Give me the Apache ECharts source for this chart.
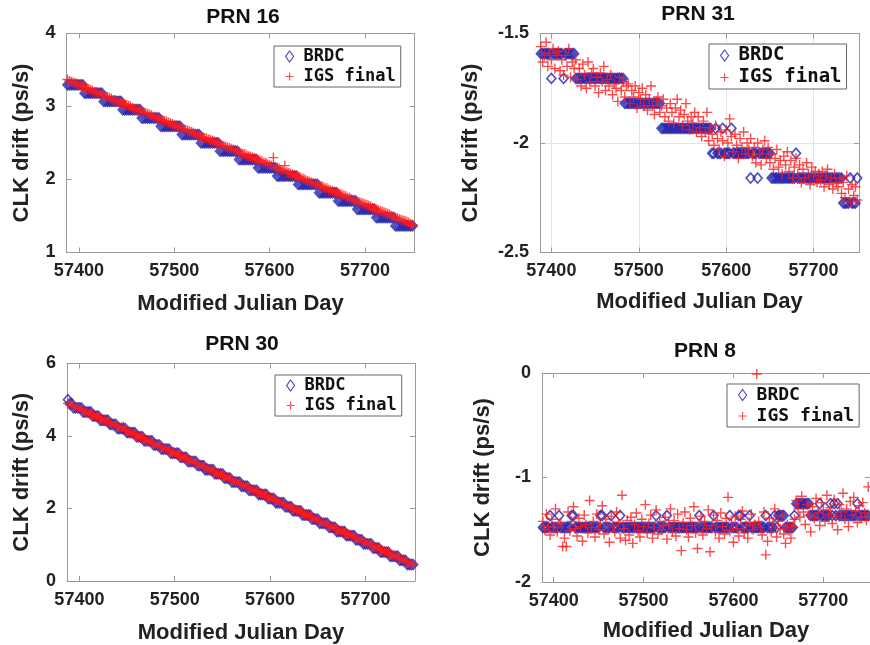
<!DOCTYPE html>
<html><head><meta charset="utf-8">
<script src="https://cdn.jsdelivr.net/npm/echarts@6/dist/echarts.min.js"></script>
<style>html,body{margin:0;padding:0;background:#fff}#c{width:870px;height:645px}</style>
</head><body><div id="c"></div>
<script>
// ---------- DATA ----------
const days = [
57388,57390,57392,57394,57396,57398,57400,57402,57404,57406,
57408,57410,57412,57414,57416,57418,57420,57422,57424,57426,
57428,57430,57432,57434,57436,57438,57440,57442,57444,57446,
57448,57450,57452,57454,57456,57458,57460,57462,57464,57466,
57468,57470,57472,57474,57476,57478,57480,57482,57484,57486,
57488,57490,57492,57494,57496,57498,57500,57502,57504,57506,
57508,57510,57512,57514,57516,57518,57520,57522,57524,57526,
57528,57530,57532,57534,57536,57538,57540,57542,57544,57546,
57548,57550,57552,57554,57556,57558,57560,57562,57564,57566,
57568,57570,57572,57574,57576,57578,57580,57582,57584,57586,
57588,57590,57592,57594,57596,57598,57600,57602,57604,57606,
57608,57610,57612,57614,57616,57618,57620,57622,57624,57626,
57628,57630,57632,57634,57636,57638,57640,57642,57644,57646,
57648,57650,57652,57654,57656,57658,57660,57662,57664,57666,
57668,57670,57672,57674,57676,57678,57680,57682,57684,57686,
57688,57690,57692,57694,57696,57698,57700,57702,57704,57706,
57708,57710,57712,57714,57716,57718,57720,57722,57724,57726,
57728,57730,57732,57734,57736,57738,57740,57742,57744,57746,
57748,57750];

const xTickLabels = [57400, 57500, 57600, 57700];

// PRN 16
const brdc16 = [
3.297,3.297,3.297,3.297,3.297,3.297,3.297,3.297,3.297,3.183,
3.183,3.183,3.183,3.183,3.183,3.183,3.183,3.183,3.183,3.070,
3.070,3.070,3.070,3.070,3.070,3.070,3.070,3.070,3.070,2.956,
2.956,2.956,2.956,2.956,2.956,2.956,2.956,2.956,2.956,2.842,
2.842,2.842,2.842,2.842,2.842,2.842,2.842,2.842,2.842,2.729,
2.729,2.729,2.729,2.729,2.729,2.729,2.729,2.729,2.729,2.729,
2.615,2.615,2.615,2.615,2.615,2.615,2.615,2.615,2.615,2.615,
2.501,2.501,2.501,2.501,2.501,2.501,2.501,2.501,2.501,2.501,
2.388,2.388,2.388,2.388,2.388,2.388,2.388,2.388,2.388,2.388,
2.274,2.274,2.274,2.274,2.274,2.274,2.274,2.274,2.274,2.274,
2.160,2.160,2.160,2.160,2.160,2.160,2.160,2.160,2.160,2.160,
2.047,2.047,2.047,2.047,2.047,2.047,2.047,2.047,2.047,2.047,
2.047,1.933,1.933,1.933,1.933,1.933,1.933,1.933,1.933,1.933,
1.933,1.933,1.819,1.819,1.819,1.819,1.819,1.819,1.819,1.819,
1.819,1.819,1.706,1.706,1.706,1.706,1.706,1.706,1.706,1.706,
1.706,1.706,1.592,1.592,1.592,1.592,1.592,1.592,1.592,1.592,
1.592,1.592,1.478,1.478,1.478,1.478,1.478,1.478,1.478,1.478,
1.478,1.478,1.364,1.364,1.364,1.364,1.364,1.364,1.364,1.364,
1.364,1.364];
const igs16 = [
3.37,3.35,3.34,3.33,3.32,3.31,3.29,3.29,3.27,3.26,
3.25,3.24,3.23,3.22,3.20,3.20,3.18,3.17,3.16,3.15,
3.14,3.13,3.12,3.11,3.09,3.09,3.07,3.06,3.05,3.04,
3.03,3.02,3.01,3.00,2.98,2.97,2.97,2.95,2.94,2.93,
2.92,2.91,2.90,2.89,2.88,2.86,2.86,2.84,2.83,2.82,
2.81,2.80,2.79,2.78,2.77,2.76,2.74,2.74,2.72,2.71,
2.70,2.69,2.68,2.67,2.66,2.65,2.64,2.62,2.62,2.60,
2.59,2.58,2.57,2.56,2.55,2.54,2.53,2.52,2.51,2.49,
2.49,2.47,2.46,2.45,2.44,2.43,2.42,2.41,2.40,2.39,
2.38,2.36,2.35,2.35,2.33,2.32,2.31,2.30,2.29,2.28,
2.27,2.26,2.25,2.23,2.23,2.21,2.20,2.19,2.30,2.17,
2.16,2.15,2.13,2.13,2.19,2.10,2.09,2.08,2.07,2.06,
2.05,2.04,2.03,2.01,2.01,1.99,1.98,1.97,1.96,1.95,
1.94,1.93,1.92,1.91,1.90,1.88,1.88,1.86,1.85,1.84,
1.83,1.82,1.81,1.80,1.79,1.78,1.77,1.75,1.75,1.73,
1.72,1.71,1.70,1.69,1.68,1.67,1.66,1.65,1.64,1.63,
1.61,1.60,1.59,1.58,1.57,1.56,1.55,1.54,1.53,1.52,
1.50,1.49,1.48,1.47,1.46,1.45,1.44,1.43,1.42,1.41,
1.39,1.38];

// PRN 31
const brdc31 = [
-1.592,-1.592,-1.592,-1.592,-1.592,-1.592,-1.705,-1.592,-1.592,-1.592,
-1.592,-1.592,-1.592,-1.705,-1.592,-1.592,-1.592,-1.592,-1.592,-1.592,
-1.705,-1.705,-1.705,-1.705,-1.705,-1.705,-1.705,-1.705,-1.705,-1.705,
-1.705,-1.705,-1.705,-1.705,-1.705,-1.705,-1.705,-1.705,-1.705,-1.705,
-1.705,-1.705,-1.705,-1.705,-1.705,-1.705,-1.705,-1.705,-1.819,-1.819,
-1.819,-1.819,-1.819,-1.819,-1.819,-1.819,-1.819,-1.819,-1.819,-1.819,
-1.819,-1.819,-1.819,-1.819,-1.819,-1.819,-1.819,-1.819,-1.819,-1.933,
-1.933,-1.933,-1.933,-1.933,-1.933,-1.933,-1.933,-1.933,-1.933,-1.933,
-1.933,-1.933,-1.933,-1.933,-1.933,-1.933,-1.933,-1.933,-1.933,-1.933,
-1.933,-1.933,-1.933,-1.933,-1.933,-1.933,-1.933,-1.933,-2.047,-2.047,
-1.933,-2.047,-2.047,-2.047,-1.933,-2.047,-2.047,-2.047,-2.047,-1.933,
-2.047,-2.047,-2.047,-2.047,-2.047,-2.047,-2.047,-2.047,-2.047,-2.047,
-2.160,-2.047,-2.047,-2.047,-2.160,-2.047,-2.047,-2.047,-2.047,-2.047,
-2.047,-2.047,-2.160,-2.160,-2.160,-2.160,-2.160,-2.160,-2.160,-2.160,
-2.160,-2.160,-2.160,-2.160,-2.160,-2.160,-2.047,-2.160,-2.160,-2.160,
-2.160,-2.160,-2.160,-2.160,-2.160,-2.160,-2.160,-2.160,-2.160,-2.160,
-2.160,-2.160,-2.160,-2.160,-2.160,-2.160,-2.160,-2.160,-2.160,-2.160,
-2.160,-2.160,-2.160,-2.274,-2.274,-2.274,-2.274,-2.160,-2.274,-2.274,
-2.274,-2.160];
const igs31 = [
-1.56,-1.63,-1.60,-1.54,-1.65,-1.59,-1.62,-1.57,-1.66,-1.60,
-1.58,-1.67,-1.62,-1.69,-1.60,-1.65,-1.57,-1.70,-1.63,-1.66,
-1.62,-1.71,-1.66,-1.74,-1.64,-1.69,-1.75,-1.63,-1.72,-1.68,
-1.66,-1.74,-1.70,-1.77,-1.68,-1.72,-1.65,-1.76,-1.71,-1.74,
-1.69,-1.78,-1.73,-1.75,-1.81,-1.70,-1.76,-1.72,-1.79,-1.74,
-1.73,-1.82,-1.76,-1.79,-1.74,-1.84,-1.77,-1.80,-1.75,-1.83,
-1.78,-1.85,-1.80,-1.74,-1.83,-1.87,-1.81,-1.79,-1.86,-1.83,
-1.80,-1.88,-1.84,-1.90,-1.82,-1.86,-1.91,-1.84,-1.80,-1.88,
-1.85,-1.92,-1.87,-1.82,-1.90,-1.94,-1.88,-1.91,-1.86,-1.95,
-1.88,-1.93,-1.97,-1.90,-1.95,-1.86,-1.99,-1.93,-1.96,-2.01,
-1.92,-1.98,-2.03,-1.95,-1.99,-2.06,-1.94,-2.00,-1.89,-1.97,
-2.04,-1.96,-2.01,-2.07,-1.98,-2.02,-1.95,-2.05,-2.00,-2.03,
-1.98,-2.06,-2.02,-2.09,-2.00,-2.05,-2.10,-2.03,-1.99,-2.07,
-2.02,-2.09,-2.05,-2.12,-2.07,-2.03,-2.11,-2.08,-2.14,-2.06,
-2.10,-2.04,-2.13,-2.08,-2.16,-2.11,-2.07,-2.14,-2.10,-2.18,
-2.12,-2.16,-2.09,-2.14,-2.19,-2.11,-2.15,-2.13,-2.18,-2.14,
-2.17,-2.13,-2.20,-2.15,-2.12,-2.19,-2.16,-2.21,-2.14,-2.18,
-2.20,-2.16,-2.23,-2.18,-2.25,-2.15,-2.21,-2.27,-2.19,-2.24,
-2.20,-2.26];

// PRN 30
const brdc30 = [
5.002,4.889,4.889,4.775,4.775,4.775,4.775,4.775,4.661,4.661,
4.661,4.661,4.661,4.548,4.548,4.548,4.548,4.434,4.434,4.434,
4.434,4.434,4.320,4.320,4.320,4.320,4.207,4.207,4.207,4.207,
4.207,4.093,4.093,4.093,4.093,4.093,3.979,3.979,3.979,3.979,
3.866,3.866,3.866,3.866,3.866,3.752,3.752,3.752,3.752,3.638,
3.638,3.638,3.638,3.638,3.524,3.524,3.524,3.524,3.524,3.411,
3.411,3.411,3.411,3.297,3.297,3.297,3.297,3.297,3.183,3.183,
3.183,3.183,3.070,3.070,3.070,3.070,3.070,2.956,2.956,2.956,
2.956,2.956,2.842,2.842,2.842,2.842,2.729,2.729,2.729,2.729,
2.729,2.615,2.615,2.615,2.615,2.501,2.501,2.501,2.501,2.501,
2.388,2.388,2.388,2.388,2.388,2.274,2.274,2.274,2.274,2.160,
2.160,2.160,2.160,2.160,2.047,2.047,2.047,2.047,1.933,1.933,
1.933,1.933,1.933,1.819,1.819,1.819,1.819,1.819,1.706,1.706,
1.706,1.706,1.592,1.592,1.592,1.592,1.592,1.478,1.478,1.478,
1.478,1.364,1.364,1.364,1.364,1.364,1.251,1.251,1.251,1.251,
1.251,1.137,1.137,1.137,1.137,1.023,1.023,1.023,1.023,1.023,
0.910,0.910,0.910,0.910,0.796,0.796,0.796,0.796,0.796,0.682,
0.682,0.682,0.682,0.682,0.568,0.568,0.568,0.568,0.455,0.455,
0.455,0.455];
const igs30 = [
4.90,4.88,4.85,4.83,4.80,4.78,4.75,4.73,4.70,4.68,
4.65,4.63,4.60,4.58,4.56,4.53,4.51,4.48,4.46,4.43,
4.41,4.38,4.36,4.34,4.31,4.29,4.26,4.24,4.21,4.26,
4.16,4.14,4.11,4.09,4.06,4.04,4.01,3.99,3.97,3.94,
3.92,3.89,3.87,3.84,3.82,3.79,3.77,3.74,3.72,3.70,
3.67,3.65,3.62,3.60,3.57,3.55,3.52,3.50,3.47,3.45,
3.42,3.40,3.38,3.35,3.33,3.30,3.28,3.25,3.23,3.20,
3.18,3.15,3.13,3.11,3.08,3.06,3.03,3.01,2.98,2.96,
2.93,2.91,2.88,2.86,2.84,2.81,2.79,2.76,2.74,2.71,
2.69,2.66,2.64,2.61,2.59,2.57,2.54,2.52,2.49,2.47,
2.44,2.42,2.39,2.37,2.34,2.32,2.30,2.27,2.25,2.22,
2.20,2.17,2.15,2.12,2.10,2.07,2.05,2.03,2.00,1.98,
1.95,1.93,1.90,1.88,1.85,1.83,1.80,1.78,1.76,1.73,
1.70,1.68,1.65,1.63,1.61,1.58,1.56,1.53,1.51,1.48,
1.46,1.43,1.41,1.38,1.36,1.33,1.31,1.29,1.26,1.24,
1.21,1.19,1.16,1.14,1.11,1.09,1.06,1.04,1.02,0.99,
0.97,0.94,0.92,0.89,0.87,0.84,0.82,0.79,0.77,0.75,
0.72,0.70,0.67,0.65,0.62,0.60,0.57,0.55,0.52,0.50,
0.47,0.45];

// PRN 8
const brdc8 = [
-1.478,-1.478,-1.478,-1.478,-1.364,-1.478,-1.478,-1.478,-1.478,-1.364,
-1.478,-1.478,-1.478,-1.478,-1.478,-1.478,-1.364,-1.364,-1.478,-1.478,
-1.478,-1.478,-1.478,-1.478,-1.478,-1.478,-1.478,-1.478,-1.478,-1.478,
-1.478,-1.478,-1.364,-1.364,-1.478,-1.478,-1.478,-1.478,-1.364,-1.478,
-1.478,-1.478,-1.478,-1.364,-1.478,-1.478,-1.478,-1.478,-1.478,-1.478,
-1.478,-1.478,-1.478,-1.478,-1.478,-1.478,-1.478,-1.478,-1.478,-1.478,
-1.478,-1.478,-1.478,-1.364,-1.478,-1.478,-1.478,-1.478,-1.478,-1.364,
-1.478,-1.478,-1.478,-1.478,-1.478,-1.478,-1.478,-1.478,-1.478,-1.478,
-1.478,-1.478,-1.478,-1.478,-1.478,-1.478,-1.478,-1.364,-1.478,-1.478,
-1.478,-1.478,-1.478,-1.478,-1.478,-1.364,-1.478,-1.478,-1.478,-1.478,
-1.478,-1.478,-1.478,-1.478,-1.364,-1.478,-1.478,-1.478,-1.478,-1.364,
-1.364,-1.478,-1.478,-1.478,-1.478,-1.364,-1.478,-1.478,-1.478,-1.478,
-1.478,-1.478,-1.478,-1.478,-1.364,-1.478,-1.478,-1.478,-1.478,-1.364,
-1.478,-1.364,-1.364,-1.364,-1.364,-1.478,-1.478,-1.478,-1.478,-1.478,
-1.364,-1.250,-1.250,-1.250,-1.250,-1.250,-1.250,-1.250,-1.250,-1.364,
-1.364,-1.364,-1.364,-1.364,-1.250,-1.364,-1.364,-1.364,-1.364,-1.364,
-1.250,-1.364,-1.250,-1.364,-1.250,-1.364,-1.364,-1.364,-1.364,-1.364,
-1.364,-1.364,-1.364,-1.364,-1.364,-1.250,-1.364,-1.364,-1.364,-1.364,
-1.364,-1.364];
const igs8 = [
-1.42,-1.50,-1.35,-1.47,-1.55,-1.40,-1.48,-1.30,-1.52,-1.44,
-1.44,-1.66,-1.58,-1.66,-1.33,-1.51,-1.42,-1.28,-1.49,-1.56,
-1.39,-1.47,-1.61,-1.36,-1.45,-1.53,-1.22,-1.48,-1.42,-1.57,
-1.35,-1.50,-1.44,-1.27,-1.54,-1.40,-1.48,-1.62,-1.37,-1.46,
-1.52,-1.33,-1.43,-1.58,-1.17,-1.49,-1.60,-1.41,-1.55,-1.38,
-1.63,-1.45,-1.34,-1.51,-1.57,-1.40,-1.47,-1.26,-1.53,-1.44,
-1.36,-1.58,-1.48,-1.31,-1.54,-1.42,-1.50,-1.46,-1.38,-1.59,
-1.45,-1.30,-1.52,-1.41,-1.56,-1.35,-1.49,-1.70,-1.43,-1.33,
-1.50,-1.57,-1.39,-1.46,-1.28,-1.53,-1.68,-1.44,-1.37,-1.55,
-1.42,-1.49,-1.31,-1.71,-1.46,-1.36,-1.52,-1.41,-1.58,-1.34,
-1.47,-1.54,-1.39,-1.19,-1.51,-1.44,-1.62,-1.37,-1.49,-1.56,
-1.40,-1.32,-1.53,-1.46,-1.58,-1.43,-1.35,-1.50,-1.45,-0.01,
-1.42,-1.48,-1.55,-1.33,-1.74,-1.61,-1.39,-1.52,-1.44,-1.30,
-1.57,-1.42,-1.49,-1.36,-1.54,-1.63,-1.45,-1.51,-1.58,-1.47,
-1.40,-1.22,-1.30,-1.38,-1.18,-1.33,-1.45,-1.26,-1.36,-1.52,
-1.28,-1.39,-1.20,-1.34,-1.46,-1.24,-1.31,-1.42,-1.17,-1.35,
-1.29,-1.44,-1.21,-1.37,-1.50,-1.26,-1.33,-1.15,-1.40,-1.30,
-1.47,-1.23,-1.36,-1.19,-1.32,-1.43,-1.27,-1.38,-1.24,-1.34,
-1.41,-1.09];

const titles = ['PRN 16', 'PRN 31', 'PRN 30', 'PRN 8'];
const brdcSets = [brdc16, brdc31, brdc30, brdc8];
const igsSets = [igs16, igs31, igs30, igs8];
const yMin = [1, -2.5, 0, -2];
const yMax = [4, -1.5, 6, 0];
const yStep = [1, 0.5, 2, 1];

// ---------- LAYOUT / STYLE ----------
const grids = [
  {left: 66.5, top: 33.5, width: 348, height: 219},
  {left: 540, top: 33.5, width: 319, height: 219},
  {left: 67, top: 363.5, width: 348, height: 218},
  {left: 542, top: 373, width: 330, height: 209}
];
const titlePos = [[243, 7], [698, 4], [242, 334], [705, 341]];
const legendPos = [[274, 46, 17], [709, 44, 19], [275, 375, 17], [727, 384, 18]];
const xNameGap = [40, 38, 41, 38];
const yNameGap = [34, 58, 34, 48];

const AX = '#9a9a9a';
const BLUE = '#2323b0';
const RED = '#ff1a1a';
const PLUS = 'path://M4.3,0H5.7V4.3H10V5.7H5.7V10H4.3V5.7H0V4.3H4.3Z';
const FONT = 'Liberation Sans';

const xAxes = [], yAxes = [], series = [], title = [], legend = [];
for (let g = 0; g < 4; g++) {
  xAxes.push({
    type: 'value', gridIndex: g, min: 57387, max: 57752, splitNumber: 4,
    name: 'Modified Julian Day', nameLocation: 'middle', nameGap: xNameGap[g],
    nameTextStyle: {fontFamily: FONT, fontWeight: 'bold', fontSize: 22, color: '#222'},
    axisLine: {show: true, onZero: false, lineStyle: {color: AX, width: 1}},
    axisTick: {show: true, inside: true, length: 5, customValues: xTickLabels, lineStyle: {color: AX}},
    axisLabel: {customValues: xTickLabels, formatter: v => String(v), margin: 10,
      fontFamily: FONT, fontWeight: 'bold', fontSize: 18, color: '#222'},
    splitLine: {show: g === 1, lineStyle: {color: '#e4e4e4', width: 1}}
  });
  yAxes.push({
    type: 'value', gridIndex: g, min: yMin[g], max: yMax[g], interval: yStep[g],
    name: 'CLK drift (ps/s)', nameLocation: 'middle', nameGap: yNameGap[g],
    nameTextStyle: {fontFamily: FONT, fontWeight: 'bold', fontSize: 22, color: '#222'},
    axisLine: {show: true, onZero: false, lineStyle: {color: AX, width: 1}},
    axisTick: {show: true, inside: true, length: 5, lineStyle: {color: AX}},
    axisLabel: {margin: 11, fontFamily: FONT, fontWeight: 'bold', fontSize: 18, color: '#222'},
    splitLine: {show: g === 1, lineStyle: {color: '#e4e4e4', width: 1}}
  });
}
for (let g = 0; g < 4; g++) {
  xAxes.push({
    type: 'value', gridIndex: g, position: 'top', min: 57387, max: 57752, splitNumber: 4,
    axisLine: {show: true, onZero: false, lineStyle: {color: AX, width: 1}},
    axisTick: {show: true, inside: true, length: 5, customValues: xTickLabels, lineStyle: {color: AX}},
    axisLabel: {show: false}, splitLine: {show: false}
  });
  yAxes.push({
    type: 'value', gridIndex: g, position: 'right', min: yMin[g], max: yMax[g], interval: yStep[g],
    axisLine: {show: true, onZero: false, lineStyle: {color: AX, width: 1}},
    axisTick: {show: true, inside: true, length: 5, lineStyle: {color: AX}},
    axisLabel: {show: false}, splitLine: {show: false}
  });
}
for (let g = 0; g < 4; g++) {
  series.push({
    type: 'scatter', name: 'BRDC', xAxisIndex: g, yAxisIndex: g,
    data: days.map((d, i) => [d, brdcSets[g][i]]),
    symbol: 'diamond', symbolSize: [9, 10],
    itemStyle: {color: 'rgba(0,0,0,0)', borderColor: BLUE, borderWidth: 1.6},
    silent: true, z: 2
  });
  series.push({
    type: 'scatter', name: 'IGS final', xAxisIndex: g, yAxisIndex: g,
    data: days.map((d, i) => [d, igsSets[g][i]]),
    symbol: PLUS, symbolSize: 10, symbolKeepAspect: true,
    itemStyle: {color: RED},
    silent: true, z: 3
  });
  title.push({
    text: titles[g], left: titlePos[g][0], top: titlePos[g][1], textAlign: 'center', padding: 0,
    textStyle: {fontFamily: FONT, fontWeight: 'bold', fontSize: 21, color: '#111'}
  });
  const fs = legendPos[g][2];
  legend.push({
    left: legendPos[g][0], top: legendPos[g][1], orient: 'vertical',
    selectedMode: false, backgroundColor: '#fff', borderColor: '#666', borderWidth: 1,
    padding: [2, 5, 2, 11], itemGap: 3, itemWidth: 8, itemHeight: 11,
    textStyle: {fontFamily: 'DejaVu Sans Mono', fontWeight: 'bold', fontSize: fs, color: '#111', padding: [0, 0, 0, 5]},
    data: [
      {name: 'BRDC', icon: 'diamond', itemStyle: {color: 'rgba(0,0,0,0)', borderColor: BLUE, borderWidth: 1.2}},
      {name: 'IGS final', icon: PLUS, itemStyle: {color: RED, borderWidth: 0}}
    ]
  });
}

const chart = echarts.init(document.getElementById('c'), null, {renderer: 'canvas'});
chart.setOption({
  animation: false,
  backgroundColor: '#fff',
  title, legend,
  grid: grids,
  xAxis: xAxes, yAxis: yAxes,
  series
});
</script>
</body></html>
